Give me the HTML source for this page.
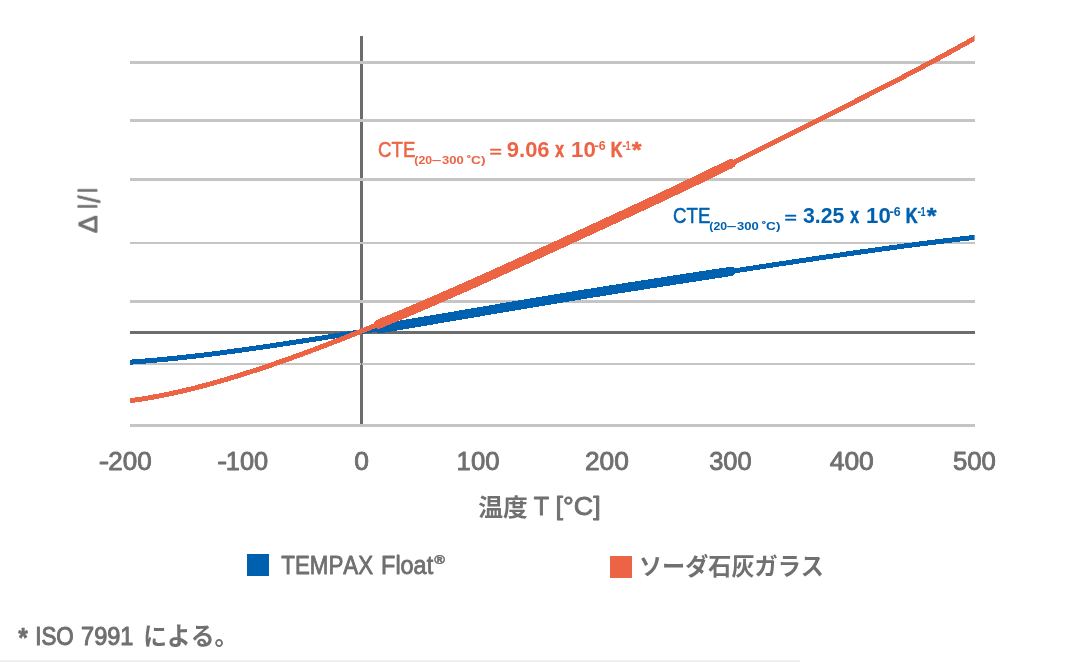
<!DOCTYPE html>
<html lang="ja">
<head>
<meta charset="utf-8">
<title>Thermal expansion: TEMPAX Float vs soda-lime glass</title>
<style>
html,body{margin:0;padding:0;background:#fff}
body{width:1074px;height:662px;overflow:hidden;font-family:"Liberation Sans",sans-serif}
svg{display:block}
text{font-family:"Liberation Sans",sans-serif;white-space:pre;font-kerning:none;stroke-linejoin:round}
</style>
</head>
<body>
<svg width="1074" height="662" viewBox="0 0 1074 662" font-family="'Liberation Sans', sans-serif">
<rect width="1074" height="662" fill="#fff"/>
<g shape-rendering="crispEdges">
<rect x="360" y="36" width="3" height="389" fill="#6c6c6c"/>
<rect x="130" y="331" width="845" height="3" fill="#6c6c6c"/>
<rect x="130" y="61" width="845" height="3" fill="#c5c5c5"/>
<rect x="130" y="119" width="845" height="3" fill="#c5c5c5"/>
<rect x="130" y="178" width="845" height="3" fill="#c5c5c5"/>
<rect x="130" y="242" width="845" height="2" fill="#c5c5c5"/>
<rect x="130" y="300" width="845" height="3" fill="#c5c5c5"/>
<rect x="130" y="363" width="845" height="2" fill="#c5c5c5"/>
<rect x="130" y="424" width="845" height="3" fill="#c5c5c5"/>
<rect x="361" y="363" width="1" height="2" fill="#6c6c6c"/>
<rect x="0" y="660" width="800" height="2" fill="#efefef"/>
</g>
<g fill="none" stroke-linejoin="round" shape-rendering="crispEdges">
<clipPath id="plot"><rect x="130" y="0" width="844.6" height="662"/></clipPath>
<path d="M124.00 362.60 C126.00 362.46 132.00 362.07 136.00 361.77 C140.00 361.48 144.00 361.16 148.00 360.82 C152.00 360.49 156.00 360.13 160.00 359.76 C164.00 359.38 168.00 358.99 172.00 358.58 C176.00 358.17 180.00 357.75 184.00 357.31 C188.00 356.87 192.00 356.41 196.00 355.94 C200.00 355.47 204.00 354.99 208.00 354.49 C212.00 354.00 216.00 353.49 220.00 352.97 C224.00 352.45 228.00 351.92 232.00 351.38 C236.00 350.84 240.00 350.29 244.00 349.73 C248.00 349.17 252.00 348.60 256.00 348.02 C260.00 347.45 264.00 346.86 268.00 346.27 C272.00 345.68 276.00 345.08 280.00 344.48 C284.00 343.88 288.00 343.27 292.00 342.65 C296.00 342.04 300.00 341.42 304.00 340.80 C308.00 340.18 312.00 339.56 316.00 338.93 C320.00 338.30 324.00 337.67 328.00 337.03 C332.00 336.40 336.00 335.76 340.00 335.11 C344.00 334.47 348.00 333.83 352.00 333.18 C356.00 332.53 360.00 331.88 364.00 331.22 C368.00 330.57 372.00 329.91 376.00 329.25 C380.00 328.60 384.00 327.93 388.00 327.27 C392.00 326.61 396.00 325.94 400.00 325.27 C404.00 324.60 408.00 323.93 412.00 323.26 C416.00 322.59 420.00 321.91 424.00 321.24 C428.00 320.56 432.00 319.89 436.00 319.21 C440.00 318.53 444.00 317.85 448.00 317.17 C452.00 316.49 456.00 315.80 460.00 315.12 C464.00 314.44 468.00 313.76 472.00 313.07 C476.00 312.39 480.00 311.71 484.00 311.02 C488.00 310.34 492.00 309.66 496.00 308.98 C500.00 308.30 504.00 307.62 508.00 306.94 C512.00 306.26 516.00 305.58 520.00 304.90 C524.00 304.23 528.00 303.55 532.00 302.88 C536.00 302.21 540.00 301.54 544.00 300.87 C548.00 300.20 552.00 299.54 556.00 298.88 C560.00 298.22 564.00 297.56 568.00 296.90 C572.00 296.25 576.00 295.60 580.00 294.95 C584.00 294.30 588.00 293.65 592.00 293.01 C596.00 292.37 600.00 291.73 604.00 291.09 C608.00 290.45 612.00 289.81 616.00 289.18 C620.00 288.55 624.00 287.92 628.00 287.29 C632.00 286.66 636.00 286.03 640.00 285.41 C644.00 284.78 648.00 284.16 652.00 283.53 C656.00 282.91 660.00 282.29 664.00 281.67 C668.00 281.05 672.00 280.44 676.00 279.82 C680.00 279.20 684.00 278.58 688.00 277.97 C692.00 277.35 696.00 276.74 700.00 276.13 C704.00 275.51 708.00 274.90 712.00 274.29 C716.00 273.67 720.00 273.06 724.00 272.45 C728.00 271.83 732.00 271.22 736.00 270.61 C740.00 270.00 744.00 269.38 748.00 268.77 C752.00 268.16 756.00 267.55 760.00 266.94 C764.00 266.33 768.00 265.72 772.00 265.11 C776.00 264.50 780.00 263.89 784.00 263.29 C788.00 262.68 792.00 262.08 796.00 261.48 C800.00 260.88 804.00 260.28 808.00 259.68 C812.00 259.08 816.00 258.49 820.00 257.90 C824.00 257.30 828.00 256.72 832.00 256.13 C836.00 255.55 840.00 254.96 844.00 254.39 C848.00 253.81 852.00 253.23 856.00 252.66 C860.00 252.09 864.00 251.53 868.00 250.96 C872.00 250.40 876.00 249.84 880.00 249.29 C884.00 248.74 888.00 248.19 892.00 247.65 C896.00 247.11 900.00 246.57 904.00 246.04 C908.00 245.51 912.00 244.99 916.00 244.47 C920.00 243.95 924.00 243.44 928.00 242.93 C932.00 242.42 936.00 241.92 940.00 241.43 C944.00 240.94 948.00 240.45 952.00 239.97 C956.00 239.50 960.00 239.03 964.00 238.56 C968.00 238.10 973.33 237.50 976.00 237.20 C978.67 236.90 979.33 236.83 980.00 236.75" stroke="#0061b0" stroke-width="5" clip-path="url(#plot)"/>
<path d="M379.50 328.68 C381.50 328.35 387.50 327.35 391.50 326.69 C395.50 326.02 399.50 325.35 403.50 324.69 C407.50 324.02 411.50 323.34 415.50 322.67 C419.50 322.00 423.50 321.32 427.50 320.65 C431.50 319.97 435.50 319.29 439.50 318.61 C443.50 317.93 447.50 317.25 451.50 316.57 C455.50 315.89 459.50 315.21 463.50 314.52 C467.50 313.84 471.50 313.16 475.50 312.48 C479.50 311.79 483.50 311.11 487.50 310.43 C491.50 309.74 495.50 309.06 499.50 308.38 C503.50 307.70 507.50 307.02 511.50 306.34 C515.50 305.66 519.50 304.99 523.50 304.31 C527.50 303.64 531.50 302.96 535.50 302.29 C539.50 301.62 543.50 300.95 547.50 300.29 C551.50 299.62 555.50 298.96 559.50 298.30 C563.50 297.64 567.50 296.98 571.50 296.33 C575.50 295.68 579.50 295.03 583.50 294.38 C587.50 293.73 591.50 293.09 595.50 292.45 C599.50 291.81 603.50 291.17 607.50 290.53 C611.50 289.89 615.50 289.26 619.50 288.63 C623.50 288.00 627.50 287.37 631.50 286.74 C635.50 286.11 639.50 285.48 643.50 284.86 C647.50 284.23 651.50 283.61 655.50 282.99 C659.50 282.37 663.50 281.75 667.50 281.13 C671.50 280.51 675.50 279.89 679.50 279.28 C683.50 278.66 687.50 278.05 691.50 277.43 C695.50 276.82 699.50 276.20 703.50 275.59 C707.50 274.98 711.50 274.36 715.50 273.75 C719.50 273.14 724.92 272.31 727.50 271.91 C730.08 271.52 730.42 271.46 731.00 271.38" stroke="#0061b0" stroke-width="9.3" stroke-linecap="round"/>
<path d="M124.00 401.47 C126.00 401.21 132.00 400.47 136.00 399.90 C140.00 399.32 144.00 398.69 148.00 398.02 C152.00 397.34 156.00 396.61 160.00 395.84 C164.00 395.07 168.00 394.24 172.00 393.38 C176.00 392.52 180.00 391.61 184.00 390.67 C188.00 389.73 192.00 388.74 196.00 387.72 C200.00 386.70 204.00 385.64 208.00 384.55 C212.00 383.46 216.00 382.34 220.00 381.18 C224.00 380.03 228.00 378.84 232.00 377.64 C236.00 376.43 240.00 375.19 244.00 373.93 C248.00 372.66 252.00 371.38 256.00 370.07 C260.00 368.76 264.00 367.43 268.00 366.08 C272.00 364.72 276.00 363.35 280.00 361.95 C284.00 360.56 288.00 359.14 292.00 357.71 C296.00 356.27 300.00 354.82 304.00 353.35 C308.00 351.88 312.00 350.39 316.00 348.88 C320.00 347.38 324.00 345.85 328.00 344.32 C332.00 342.78 336.00 341.23 340.00 339.66 C344.00 338.09 348.00 336.51 352.00 334.92 C356.00 333.33 360.00 331.72 364.00 330.11 C368.00 328.49 372.00 326.86 376.00 325.22 C380.00 323.58 384.00 321.93 388.00 320.26 C392.00 318.60 396.00 316.93 400.00 315.24 C404.00 313.56 408.00 311.87 412.00 310.16 C416.00 308.46 420.00 306.75 424.00 305.03 C428.00 303.31 432.00 301.58 436.00 299.84 C440.00 298.10 444.00 296.35 448.00 294.60 C452.00 292.85 456.00 291.08 460.00 289.32 C464.00 287.55 468.00 285.77 472.00 283.99 C476.00 282.21 480.00 280.42 484.00 278.63 C488.00 276.84 492.00 275.04 496.00 273.23 C500.00 271.43 504.00 269.62 508.00 267.81 C512.00 265.99 516.00 264.18 520.00 262.36 C524.00 260.53 528.00 258.71 532.00 256.88 C536.00 255.05 540.00 253.22 544.00 251.39 C548.00 249.55 552.00 247.72 556.00 245.88 C560.00 244.04 564.00 242.20 568.00 240.36 C572.00 238.52 576.00 236.68 580.00 234.84 C584.00 232.99 588.00 231.15 592.00 229.30 C596.00 227.46 600.00 225.61 604.00 223.77 C608.00 221.92 612.00 220.07 616.00 218.22 C620.00 216.36 624.00 214.51 628.00 212.65 C632.00 210.79 636.00 208.93 640.00 207.06 C644.00 205.20 648.00 203.33 652.00 201.45 C656.00 199.58 660.00 197.70 664.00 195.81 C668.00 193.92 672.00 192.03 676.00 190.14 C680.00 188.24 684.00 186.34 688.00 184.43 C692.00 182.51 696.00 180.60 700.00 178.67 C704.00 176.75 708.00 174.81 712.00 172.87 C716.00 170.93 720.00 168.98 724.00 167.02 C728.00 165.07 732.00 163.10 736.00 161.12 C740.00 159.15 744.00 157.17 748.00 155.18 C752.00 153.20 756.00 151.20 760.00 149.21 C764.00 147.21 768.00 145.21 772.00 143.21 C776.00 141.20 780.00 139.20 784.00 137.19 C788.00 135.18 792.00 133.17 796.00 131.17 C800.00 129.16 804.00 127.15 808.00 125.14 C812.00 123.14 816.00 121.13 820.00 119.13 C824.00 117.12 828.00 115.12 832.00 113.11 C836.00 111.11 840.00 109.10 844.00 107.09 C848.00 105.08 852.00 103.07 856.00 101.05 C860.00 99.03 864.00 97.01 868.00 94.98 C872.00 92.96 876.00 90.92 880.00 88.88 C884.00 86.84 888.00 84.79 892.00 82.73 C896.00 80.67 900.00 78.60 904.00 76.52 C908.00 74.44 912.00 72.35 916.00 70.24 C920.00 68.13 924.00 66.02 928.00 63.89 C932.00 61.75 936.00 59.61 940.00 57.44 C944.00 55.28 948.00 53.10 952.00 50.90 C956.00 48.71 960.00 46.49 964.00 44.26 C968.00 42.02 973.33 39.00 976.00 37.49 C978.67 35.98 979.33 35.59 980.00 35.21" stroke="#ec6444" stroke-width="5" clip-path="url(#plot)"/>
<path d="M378.50 324.19 C380.50 323.36 386.50 320.89 390.50 319.22 C394.50 317.56 398.50 315.88 402.50 314.19 C406.50 312.50 410.50 310.80 414.50 309.10 C418.50 307.39 422.50 305.68 426.50 303.95 C430.50 302.23 434.50 300.49 438.50 298.75 C442.50 297.01 446.50 295.26 450.50 293.50 C454.50 291.75 458.50 289.98 462.50 288.21 C466.50 286.44 470.50 284.66 474.50 282.88 C478.50 281.09 482.50 279.30 486.50 277.51 C490.50 275.71 494.50 273.91 498.50 272.11 C502.50 270.30 506.50 268.49 510.50 266.67 C514.50 264.86 518.50 263.04 522.50 261.22 C526.50 259.39 530.50 257.57 534.50 255.74 C538.50 253.91 542.50 252.08 546.50 250.24 C550.50 248.41 554.50 246.57 558.50 244.73 C562.50 242.89 566.50 241.05 570.50 239.21 C574.50 237.37 578.50 235.53 582.50 233.68 C586.50 231.84 590.50 230.00 594.50 228.15 C598.50 226.31 602.50 224.46 606.50 222.61 C610.50 220.76 614.50 218.91 618.50 217.06 C622.50 215.20 626.50 213.35 630.50 211.49 C634.50 209.63 638.50 207.76 642.50 205.90 C646.50 204.03 650.50 202.16 654.50 200.28 C658.50 198.40 662.50 196.52 666.50 194.63 C670.50 192.74 674.50 190.85 678.50 188.95 C682.50 187.05 686.50 185.14 690.50 183.23 C694.50 181.32 698.50 179.40 702.50 177.47 C706.50 175.54 710.50 173.60 714.50 171.66 C718.50 169.71 723.75 167.14 726.50 165.80 C729.25 164.45 730.25 163.96 731.00 163.59" stroke="#ec6444" stroke-width="9.3" stroke-linecap="round"/>
</g>
<defs><filter id="soft" filterUnits="userSpaceOnUse" x="0" y="0" width="1074" height="662"><feGaussianBlur stdDeviation="0.4"/></filter></defs>
<g filter="url(#soft)">
<g><text x="378.05" y="156.80" font-size="21.20" textLength="37.35" lengthAdjust="spacingAndGlyphs" fill="#ec6444" stroke="#ec6444" stroke-width="0.50">CTE</text>
<text x="414.39" y="163.90" font-size="11.40" textLength="17.71" lengthAdjust="spacingAndGlyphs" fill="#ec6444" font-weight="bold">(20</text>
<text x="431.67" y="163.90" font-size="11.40" textLength="9.66" lengthAdjust="spacingAndGlyphs" fill="#ec6444" font-weight="bold">–</text>
<text x="442.10" y="163.90" font-size="11.40" textLength="21.73" lengthAdjust="spacingAndGlyphs" fill="#ec6444" font-weight="bold">300</text>
<text x="466.75" y="161.10" font-size="7.00" textLength="4.09" lengthAdjust="spacingAndGlyphs" fill="#ec6444" font-weight="bold" stroke="#ec6444" stroke-width="0.30">°</text>
<text x="471.14" y="163.90" font-size="11.40" textLength="14.44" lengthAdjust="spacingAndGlyphs" fill="#ec6444" font-weight="bold">C)</text>
<text x="489.75" y="156.70" font-size="15.00" textLength="11.99" lengthAdjust="spacingAndGlyphs" fill="#ec6444" font-weight="bold" stroke="#ec6444" stroke-width="0.45">=</text>
<text x="506.84" y="156.80" font-size="21.20" textLength="42.76" lengthAdjust="spacingAndGlyphs" fill="#ec6444" font-weight="bold">9.06</text>
<text x="555.29" y="156.80" font-size="21.20" textLength="8.72" lengthAdjust="spacingAndGlyphs" fill="#ec6444" font-weight="bold" stroke="#ec6444" stroke-width="0.60">x</text>
<text x="571.10" y="156.80" font-size="21.20" textLength="24.71" lengthAdjust="spacingAndGlyphs" fill="#ec6444" font-weight="bold">10</text>
<text x="594.48" y="150.30" font-size="12.00" textLength="4.46" lengthAdjust="spacingAndGlyphs" fill="#ec6444" font-weight="bold">-</text>
<text x="598.65" y="149.90" font-size="12.00" textLength="6.90" lengthAdjust="spacingAndGlyphs" fill="#ec6444" font-weight="bold">6</text>
<text x="610.80" y="156.80" font-size="21.20" textLength="11.85" lengthAdjust="spacingAndGlyphs" fill="#ec6444" font-weight="bold" stroke="#ec6444" stroke-width="0.60">K</text>
<text x="622.14" y="150.30" font-size="12.00" textLength="3.93" lengthAdjust="spacingAndGlyphs" fill="#ec6444" font-weight="bold">-</text>
<text x="625.62" y="149.90" font-size="12.00" textLength="5.14" lengthAdjust="spacingAndGlyphs" fill="#ec6444" font-weight="bold">1</text>
<text x="631.73" y="157.00" font-size="21.50" textLength="9.80" lengthAdjust="spacingAndGlyphs" fill="#ec6444" font-weight="bold" stroke="#ec6444" stroke-width="0.40">*</text></g>
<g><text x="673.05" y="222.80" font-size="21.20" textLength="37.35" lengthAdjust="spacingAndGlyphs" fill="#0061b0" stroke="#0061b0" stroke-width="0.50">CTE</text>
<text x="709.39" y="229.90" font-size="11.40" textLength="17.71" lengthAdjust="spacingAndGlyphs" fill="#0061b0" font-weight="bold">(20</text>
<text x="726.67" y="229.90" font-size="11.40" textLength="9.66" lengthAdjust="spacingAndGlyphs" fill="#0061b0" font-weight="bold">–</text>
<text x="737.10" y="229.90" font-size="11.40" textLength="21.73" lengthAdjust="spacingAndGlyphs" fill="#0061b0" font-weight="bold">300</text>
<text x="761.75" y="227.10" font-size="7.00" textLength="4.09" lengthAdjust="spacingAndGlyphs" fill="#0061b0" font-weight="bold" stroke="#0061b0" stroke-width="0.30">°</text>
<text x="766.14" y="229.90" font-size="11.40" textLength="14.44" lengthAdjust="spacingAndGlyphs" fill="#0061b0" font-weight="bold">C)</text>
<text x="784.75" y="222.70" font-size="15.00" textLength="11.99" lengthAdjust="spacingAndGlyphs" fill="#0061b0" font-weight="bold" stroke="#0061b0" stroke-width="0.45">=</text>
<text x="803.01" y="222.80" font-size="21.20" textLength="41.38" lengthAdjust="spacingAndGlyphs" fill="#0061b0" font-weight="bold">3.25</text>
<text x="850.29" y="222.80" font-size="21.20" textLength="8.72" lengthAdjust="spacingAndGlyphs" fill="#0061b0" font-weight="bold" stroke="#0061b0" stroke-width="0.60">x</text>
<text x="866.10" y="222.80" font-size="21.20" textLength="24.71" lengthAdjust="spacingAndGlyphs" fill="#0061b0" font-weight="bold">10</text>
<text x="889.48" y="216.30" font-size="12.00" textLength="4.46" lengthAdjust="spacingAndGlyphs" fill="#0061b0" font-weight="bold">-</text>
<text x="893.65" y="215.90" font-size="12.00" textLength="6.90" lengthAdjust="spacingAndGlyphs" fill="#0061b0" font-weight="bold">6</text>
<text x="905.80" y="222.80" font-size="21.20" textLength="11.85" lengthAdjust="spacingAndGlyphs" fill="#0061b0" font-weight="bold" stroke="#0061b0" stroke-width="0.60">K</text>
<text x="917.14" y="216.30" font-size="12.00" textLength="3.93" lengthAdjust="spacingAndGlyphs" fill="#0061b0" font-weight="bold">-</text>
<text x="920.62" y="215.90" font-size="12.00" textLength="5.14" lengthAdjust="spacingAndGlyphs" fill="#0061b0" font-weight="bold">1</text>
<text x="926.73" y="223.00" font-size="21.50" textLength="9.80" lengthAdjust="spacingAndGlyphs" fill="#0061b0" font-weight="bold" stroke="#0061b0" stroke-width="0.40">*</text></g>
<g transform="translate(96.9 232.8) rotate(-90)"><text x="-0.36" y="0.0" font-size="25.80" textLength="17.64" lengthAdjust="spacingAndGlyphs" fill="#6f6f6f" stroke="#6f6f6f" stroke-width="0.85">Δ</text><text x="24.11" y="0.0" font-size="25.80" textLength="4.68" lengthAdjust="spacingAndGlyphs" fill="#6f6f6f" stroke="#6f6f6f" stroke-width="0.85">l</text><text x="30.03" y="2.8" font-size="29.60" textLength="7.25" lengthAdjust="spacingAndGlyphs" fill="#6f6f6f" stroke="#6f6f6f" stroke-width="0.85">/</text><text x="40.01" y="0.0" font-size="25.80" textLength="4.68" lengthAdjust="spacingAndGlyphs" fill="#6f6f6f" stroke="#6f6f6f" stroke-width="0.85">l</text></g>
<g><text x="98.72" y="469.70" font-size="25.00" textLength="10.37" lengthAdjust="spacingAndGlyphs" fill="#6f6f6f" stroke="#6f6f6f" stroke-width="0.85">-</text>
<text x="108.29" y="469.70" font-size="25.00" textLength="43.43" lengthAdjust="spacingAndGlyphs" fill="#6f6f6f" stroke="#6f6f6f" stroke-width="0.85">200</text>
<text x="217.29" y="469.70" font-size="25.00" textLength="9.82" lengthAdjust="spacingAndGlyphs" fill="#6f6f6f" stroke="#6f6f6f" stroke-width="0.85">-</text>
<text x="225.87" y="469.70" font-size="25.00" textLength="42.32" lengthAdjust="spacingAndGlyphs" fill="#6f6f6f" stroke="#6f6f6f" stroke-width="0.85">100</text>
<text x="354.17" y="469.70" font-size="25.00" textLength="14.66" lengthAdjust="spacingAndGlyphs" fill="#6f6f6f" stroke="#6f6f6f" stroke-width="0.85">0</text>
<text x="456.64" y="469.70" font-size="25.00" textLength="42.86" lengthAdjust="spacingAndGlyphs" fill="#6f6f6f" stroke="#6f6f6f" stroke-width="0.85">100</text>
<text x="584.98" y="469.70" font-size="25.00" textLength="43.95" lengthAdjust="spacingAndGlyphs" fill="#6f6f6f" stroke="#6f6f6f" stroke-width="0.85">200</text>
<text x="709.23" y="469.70" font-size="25.00" textLength="42.46" lengthAdjust="spacingAndGlyphs" fill="#6f6f6f" stroke="#6f6f6f" stroke-width="0.85">300</text>
<text x="829.69" y="469.70" font-size="25.00" textLength="44.14" lengthAdjust="spacingAndGlyphs" fill="#6f6f6f" stroke="#6f6f6f" stroke-width="0.85">400</text>
<text x="952.97" y="469.70" font-size="25.00" textLength="42.94" lengthAdjust="spacingAndGlyphs" fill="#6f6f6f" stroke="#6f6f6f" stroke-width="0.85">500</text></g>
<text x="478.20" y="516.30" font-size="24.40" textLength="49.60" lengthAdjust="spacingAndGlyphs" fill="#6f6f6f" font-weight="bold" style="font-family:'Liberation Sans','Noto Sans CJK JP',sans-serif">温度</text>
<text x="533.74" y="515.40" font-size="25.10" textLength="15.34" lengthAdjust="spacingAndGlyphs" fill="#6f6f6f" stroke="#6f6f6f" stroke-width="0.85">T</text>
<text x="555.59" y="515.40" font-size="25.10" textLength="45.03" lengthAdjust="spacingAndGlyphs" fill="#6f6f6f" stroke="#6f6f6f" stroke-width="0.85">[°C]</text>
<rect x="247" y="554" width="22" height="22" fill="#0061b0" shape-rendering="crispEdges"/>
<text x="281.30" y="573.50" font-size="24.90" textLength="91.77" lengthAdjust="spacingAndGlyphs" fill="#6f6f6f" stroke="#6f6f6f" stroke-width="0.80">TEMPAX</text>
<text x="381.08" y="573.50" font-size="24.90" textLength="52.09" lengthAdjust="spacingAndGlyphs" fill="#6f6f6f" stroke="#6f6f6f" stroke-width="0.80">Float</text>
<text x="434.27" y="563.70" font-size="12.90" textLength="10.75" lengthAdjust="spacingAndGlyphs" fill="#6f6f6f" font-weight="bold" stroke="#6f6f6f" stroke-width="0.50">®</text>
<rect x="610" y="556" width="22" height="22" fill="#ec6444" shape-rendering="crispEdges"/>
<text x="639.00" y="575.00" font-size="24.00" textLength="185.00" lengthAdjust="spacingAndGlyphs" fill="#6f6f6f" font-weight="bold" style="font-family:'Liberation Sans','Noto Sans CJK JP',sans-serif">ソーダ石灰ガラス</text>
<text x="18.33" y="646.50" font-size="27.60" textLength="9.60" lengthAdjust="spacingAndGlyphs" fill="#6f6f6f" font-weight="bold" stroke="#6f6f6f" stroke-width="0.60">*</text>
<text x="35.24" y="644.80" font-size="25.60" textLength="38.53" lengthAdjust="spacingAndGlyphs" fill="#6f6f6f" stroke="#6f6f6f" stroke-width="1.00">ISO</text>
<text x="81.09" y="644.80" font-size="25.30" textLength="52.36" lengthAdjust="spacingAndGlyphs" fill="#6f6f6f" stroke="#6f6f6f" stroke-width="1.00">7991</text>
<text x="143.30" y="645.00" font-size="24.50" textLength="95.00" lengthAdjust="spacingAndGlyphs" fill="#6f6f6f" font-weight="bold" style="font-family:'Liberation Sans','Noto Sans CJK JP',sans-serif">による。</text>
</g>
</svg>
</body>
</html>
